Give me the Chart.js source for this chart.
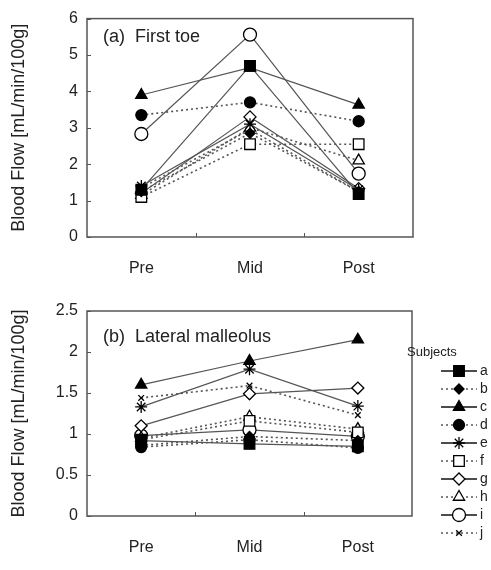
<!DOCTYPE html>
<html>
<head>
<meta charset="utf-8">
<script src="https://cdn.jsdelivr.net/npm/chart.js@4/dist/chart.umd.min.js"></script>
<style>
  body { margin: 0; background: #fff; }
  #wrap { position: relative; width: 491px; height: 570px; }
  #toeChart { position: absolute; left: 0; top: 0; }
  #malChart { position: absolute; left: 0; top: 285px; }
</style>
</head>
<body>
<div id="wrap">
  <canvas id="toeChart" width="491" height="285"></canvas>
  <canvas id="malChart" width="491" height="285"></canvas>
</div>
<script>
// categories and subjects
const phases = ["Pre", "Mid", "Post"];
const subjects = ["a", "b", "c", "d", "e", "f", "g", "h", "i", "j"];
const toeTicks = [0, 1, 2, 3, 4, 5, 6];
const malTicks = [0, 0.5, 1, 1.5, 2, 2.5];

// (a) First toe, values per subject for Pre / Mid / Post
const toeA = [1.30, 4.70, 1.18];
const toeB = [1.25, 2.85, 1.25];
const toeC = [3.90, 4.65, 3.63];
const toeD = [3.35, 3.70, 3.18];
const toeE = [1.40, 3.10, 1.30];
const toeF = [1.10, 2.55, 2.55];
const toeG = [1.20, 3.30, 1.33];
const toeH = [1.15, 3.00, 2.10];
const toeI = [2.83, 5.56, 1.74];
const toeJ = [1.35, 2.95, 1.25];

// (b) Lateral malleolus
const malA = [0.92, 0.88, 0.85];
const malB = [0.86, 0.97, 0.92];
const malC = [1.60, 1.89, 2.15];
const malD = [0.84, 0.93, 0.83];
const malE = [1.33, 1.79, 1.34];
const malF = [0.93, 1.16, 1.02];
const malG = [1.10, 1.49, 1.56];
const malH = [0.95, 1.21, 1.06];
const malI = [0.98, 1.05, 0.97];
const malJ = [1.44, 1.59, 1.23];

// marker / line look for each subject
const markStyle = ["rect", "rectRot", "triangle", "circle", "star", "rect", "rectRot", "triangle", "circle", "crossRot"];
const markSize = [7.5, 5, 6.5, 5.5, 6, 7.5, 6, 6.5, 6.5, 4];
const markFilled = [true, true, true, true, true, false, false, false, false, true];
const dotted = [false, true, false, true, false, true, false, true, false, true];

const FONT = '"Liberation Sans", Arial, sans-serif';

function makeDatasets(series) {
  return series.map((vals, i) => ({
    label: subjects[i],
    data: vals,
    borderColor: '#555',
    borderWidth: dotted[i] ? 1.6 : 1.2,
    borderDash: dotted[i] ? [2, 3] : [],
    pointStyle: markStyle[i],
    pointRadius: markSize[i],
    pointBackgroundColor: markFilled[i] ? '#000' : '#fff',
    pointBorderColor: '#000',
    pointBorderWidth: 1.3,
    tension: 0
  }));
}

// frame, inward tick marks, panel title and (optionally) the legend
const framePlugin = {
  id: 'frame',
  afterDraw(chart, args, opts) {
    const ctx = chart.ctx;
    const a = chart.chartArea;
    const xs = chart.scales.x;
    const ys = chart.scales.y;
    ctx.save();
    ctx.strokeStyle = '#555';
    ctx.lineWidth = 1.5;
    ctx.strokeRect(a.left, a.top, a.right - a.left, a.bottom - a.top);

    ctx.lineWidth = 1;
    ys.ticks.forEach(t => {
      let y = Math.round(ys.getPixelForValue(t.value)) + 0.5;
      ctx.beginPath();
      ctx.moveTo(a.left, y);
      ctx.lineTo(a.left + 4, y);
      ctx.stroke();
    });
    for (let i = 0; i < phases.length - 1; i++) {
      let x = Math.round((xs.getPixelForValue(i) + xs.getPixelForValue(i + 1)) / 2) + 0.5;
      ctx.beginPath();
      ctx.moveTo(x, a.bottom);
      ctx.lineTo(x, a.bottom - 4);
      ctx.stroke();
    }

    // panel title
    ctx.fillStyle = '#222';
    ctx.font = '18px ' + FONT;
    ctx.textBaseline = 'middle';
    ctx.fillText(opts.title, a.left + 16, a.top + opts.titleDy);

    // legend
    if (opts.legend) {
      const lx = 441, lw = 36;
      let ly = opts.legendTop;
      ctx.font = '13px ' + FONT;
      ctx.fillText('Subjects', 407, ly - 19);
      ctx.font = '14px ' + FONT;
      chart.data.datasets.forEach((ds, i) => {
        ctx.save();
        ctx.strokeStyle = dotted[i] ? '#555' : '#111';
        ctx.lineWidth = dotted[i] ? 1.5 : 1.6;
        ctx.setLineDash(dotted[i] ? [2, 3] : []);
        ctx.beginPath();
        ctx.moveTo(lx, ly);
        ctx.lineTo(lx + lw, ly);
        ctx.stroke();
        ctx.restore();
        ctx.save();
        ctx.fillStyle = ds.pointBackgroundColor;
        ctx.strokeStyle = '#000';
        ctx.lineWidth = 1.3;
        Chart.helpers.drawPoint(ctx, {
          pointStyle: ds.pointStyle,
          radius: ds.pointRadius,
          rotation: 0,
          borderWidth: 1.3
        }, lx + lw / 2, ly);
        ctx.restore();
        ctx.fillStyle = '#222';
        ctx.fillText(ds.label, lx + lw + 3, ly);
        ly += 18;
      });
    }
    ctx.restore();
  }
};

function buildChart(canvasId, series, ticks, opts) {
  const canvas = document.querySelector('#' + canvasId);
  return new Chart(canvas, {
    type: 'line',
    data: { labels: phases, datasets: makeDatasets(series) },
    plugins: [framePlugin],
    options: {
      responsive: false,
      animation: false,
      layout: { padding: { top: opts.top, right: opts.right, left: 0, bottom: 0 } },
      plugins: {
        legend: { display: false },
        tooltip: { enabled: false },
        frame: { title: opts.title, titleDy: opts.titleDy, legend: opts.legend, legendTop: opts.legendTop }
      },
      scales: {
        x: {
          offset: true,
          grid: { display: false, drawTicks: false },
          border: { display: false },
          ticks: { color: '#222', font: { family: FONT, size: 16 }, padding: 22, maxRotation: 0 },
          afterFit: s => { s.height = canvas.height - opts.bottom; }
        },
        y: {
          min: ticks[0],
          max: ticks[ticks.length - 1],
          grid: { display: false, drawTicks: false },
          border: { display: false },
          afterBuildTicks: s => { s.ticks = ticks.map(v => ({ value: v })); },
          ticks: {
            color: '#222',
            font: { family: FONT, size: 16 },
            padding: 9,
            callback: v => String(v)
          },
          title: {
            display: true,
            text: 'Blood Flow [mL/min/100g]',
            color: '#222',
            font: { family: FONT, size: 18 },
            padding: { top: 8, bottom: 0 }
          },
          afterFit: s => { s.width = 87; }
        }
      }
    }
  });
}

buildChart('toeChart',
  [toeA, toeB, toeC, toeD, toeE, toeF, toeG, toeH, toeI, toeJ],
  toeTicks,
  { top: 13, right: 78, bottom: 237, title: '(a)  First toe', titleDy: 18, legend: false });

buildChart('malChart',
  [malA, malB, malC, malD, malE, malF, malG, malH, malI, malJ],
  malTicks,
  { top: 26, right: 79, bottom: 231, title: '(b)  Lateral malleolus', titleDy: 26, legend: true, legendTop: 86 });
</script>
</body>
</html>
